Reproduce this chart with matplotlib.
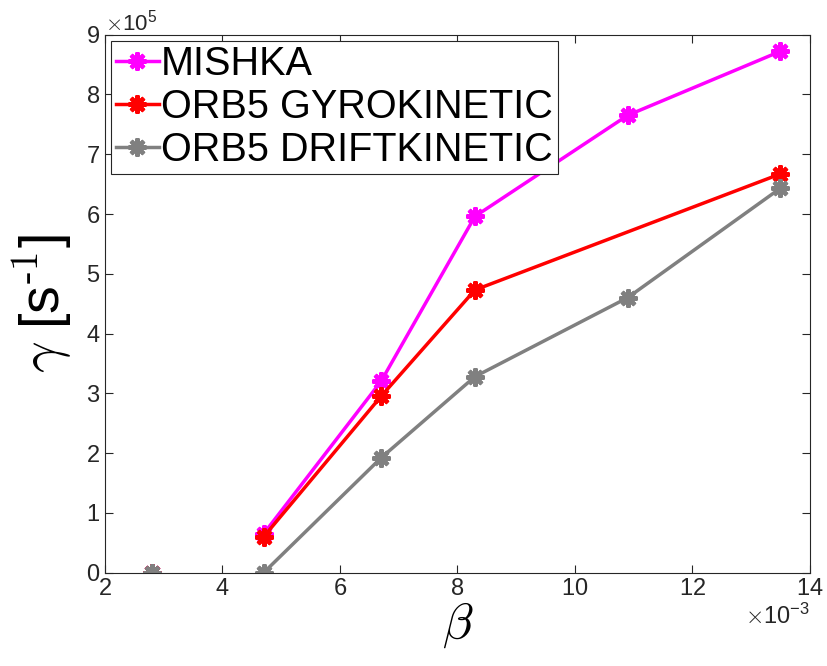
import matplotlib
matplotlib.use('Agg')
import matplotlib.pyplot as plt
import numpy as np
from matplotlib.ticker import ScalarFormatter

plt.rcParams['font.family'] = ['Liberation Sans', 'DejaVu Sans']
plt.rcParams['mathtext.fontset'] = 'cm'

# beta values (x1e-3) and growth rates (x1e5 s^-1)
beta_all = [4.7, 6.7, 8.3, 10.9, 13.5]
beta_red = [4.7, 6.7, 8.3, 13.5]
mishka = [0.65, 3.2, 5.96, 7.65, 8.72]
orb5_gk = [0.6, 2.95, 4.73, 6.67]
orb5_dk = [0.0, 1.92, 3.28, 4.60, 6.43]
# isolated first point (all three series)
beta0 = [2.8]
gamma0 = [0.0]

xs = 1e-3
ys = 1e5

fig = plt.figure(figsize=(8.27, 6.66), dpi=100)
ax = fig.add_axes([0.127, 0.14, 0.852, 0.808])

ast = (8, 2, 0)
kw = dict(lw=2.5, marker=ast, ms=13, mew=3)
ax.plot(np.array(beta_all)*xs, np.array(mishka)*ys, color='magenta', label='MISHKA', **kw)
ax.plot(np.array(beta_red)*xs, np.array(orb5_gk)*ys, color='red', label='ORB5 GYROKINETIC', **kw)
ax.plot(np.array(beta_all)*xs, np.array(orb5_dk)*ys, color='gray', label='ORB5 DRIFTKINETIC', **kw)
for c in ['magenta', 'red', 'gray']:
    ax.plot(np.array(beta0)*xs, np.array(gamma0)*ys, ls='none', marker=ast, ms=13, mew=3, color=c)

ax.set_xlim(0.002, 0.014)
ax.set_ylim(0, 9e5)
ax.set_xticks(np.arange(2, 15, 2)*xs)
ax.set_yticks(np.arange(0, 10)*ys)

fx = ScalarFormatter(useMathText=True)
fx.set_powerlimits((-3, -3))
ax.xaxis.set_major_formatter(fx)
fy = ScalarFormatter(useMathText=True)
fy.set_powerlimits((5, 5))
ax.yaxis.set_major_formatter(fy)
ax.xaxis.get_offset_text().set_fontsize(17)
ax.yaxis.get_offset_text().set_fontsize(16)

ax.tick_params(direction='in', top=True, right=True, labelsize=17, length=6, width=0.8, colors='#262626')
for s in ax.spines.values():
    s.set_color('#262626')
    s.set_linewidth(0.8)

ax.set_xlabel(r'$\beta$', fontsize=36, labelpad=1)
ax.set_ylabel(r'$\gamma$ [s$^{\text{-1}}$]', fontsize=40, labelpad=8)

leg = ax.legend(loc='upper left', fontsize=28.5, handlelength=1.1, handletextpad=0.05,
                labelspacing=0.12, borderpad=0.12, borderaxespad=0.15, fancybox=False,
                edgecolor='#262626', framealpha=1)
leg.get_frame().set_linewidth(0.8)

fig.savefig('out.png', dpi=100)
